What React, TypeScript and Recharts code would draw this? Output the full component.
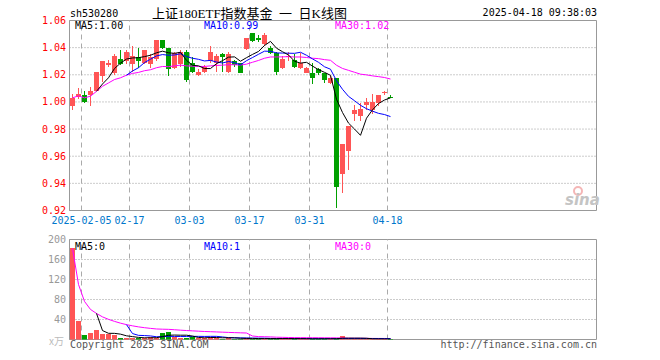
import { ComposedChart, Bar, Line, XAxis, YAxis, CartesianGrid, ReferenceLine, ReferenceArea } from 'recharts';

const MONO = "'DejaVu Sans Mono', monospace";
const RED = '#ff5555';
const GREEN = '#00a000';

// trading days shown (index 0 = 2025-01-24)
const dates = [
  '2025-01-24', '2025-01-27', '2025-02-05', '2025-02-06', '2025-02-07', '2025-02-10', '2025-02-11', '2025-02-12',
  '2025-02-13', '2025-02-14', '2025-02-17', '2025-02-18', '2025-02-19', '2025-02-20', '2025-02-21', '2025-02-24',
  '2025-02-25', '2025-02-26', '2025-02-27', '2025-02-28', '2025-03-03', '2025-03-04', '2025-03-05', '2025-03-06',
  '2025-03-07', '2025-03-10', '2025-03-11', '2025-03-12', '2025-03-13', '2025-03-14', '2025-03-17', '2025-03-18',
  '2025-03-19', '2025-03-20', '2025-03-21', '2025-03-24', '2025-03-25', '2025-03-26', '2025-03-27', '2025-03-28',
  '2025-03-31', '2025-04-01', '2025-04-02', '2025-04-03', '2025-04-07', '2025-04-08', '2025-04-09', '2025-04-10',
  '2025-04-11', '2025-04-14', '2025-04-15', '2025-04-16', '2025-04-17', '2025-04-18',
];

const opens = [
  0.997, 1.004, 1.005, 1.005, 1.008, 1.019, 1.027, 1.021, 1.032, 1.030, 1.028, 1.033, 1.029, 1.028, 1.032, 1.046,
  1.040, 1.025, 1.028, 1.037, 1.029, 1.020, 1.022, 1.030, 1.029, 1.035, 1.022, 1.030, 1.029, 1.039, 1.051, 1.047,
  1.043, 1.040, 1.036, 1.025, 1.033, 1.031, 1.025, 1.021, 1.021, 1.024, 1.021, 1.014, 1.018, 0.947, 0.964, 0.991,
  0.990, 0.998, 0.994, 0.999, 1.007, 1.004,
];
const closes = [
  1.003, 1.006, 1.000, 1.008, 1.022, 1.030, 1.029, 1.034, 1.028, 1.037, 1.034, 1.030, 1.038, 1.033, 1.046, 1.040,
  1.024, 1.036, 1.037, 1.016, 1.022, 1.022, 1.026, 1.037, 1.034, 1.033, 1.035, 1.027, 1.021, 1.047, 1.045, 1.046,
  1.049, 1.036, 1.022, 1.032, 1.034, 1.026, 1.029, 1.025, 1.018, 1.021, 1.016, 1.018, 0.937, 0.969, 0.982, 0.994,
  0.995, 1.000, 1.000, 1.005, 1.007, 1.003,
];
const highs = [
  1.006, 1.010, 1.008, 1.011, 1.022, 1.030, 1.031, 1.035, 1.038, 1.038, 1.041, 1.040, 1.038, 1.035, 1.046, 1.046,
  1.040, 1.037, 1.038, 1.038, 1.033, 1.024, 1.027, 1.041, 1.035, 1.036, 1.037, 1.031, 1.029, 1.047, 1.051, 1.049,
  1.051, 1.041, 1.037, 1.034, 1.037, 1.035, 1.036, 1.026, 1.029, 1.025, 1.021, 1.019, 1.018, 0.969, 0.982, 0.998,
  0.999, 1.003, 1.006, 1.005, 1.008, 1.005,
];
const lows = [
  0.994, 1.002, 0.999, 0.997, 1.008, 1.015, 1.026, 1.020, 1.027, 1.028, 1.022, 1.025, 1.028, 1.025, 1.030, 1.039,
  1.019, 1.024, 1.026, 1.015, 1.021, 1.019, 1.021, 1.029, 1.022, 1.022, 1.021, 1.026, 1.021, 1.038, 1.044, 1.044,
  1.041, 1.035, 1.020, 1.024, 1.030, 1.025, 1.024, 1.021, 1.013, 1.020, 1.014, 1.013, 0.922, 0.933, 0.950, 0.986,
  0.986, 0.994, 0.991, 0.997, 1.005, 1.003,
];
// volume in 万
const volumes = [
  182, 38, 8.5, 12, 20, 11, 10.5, 8, 4, 3.5, 3, 2.5, 4, 4.5, 4, 14, 16, 6, 3, 4, 5, 2.5, 2.5, 6, 4, 2, 3, 2, 1.5,
  2.5, 2, 1.5, 1.5, 2, 2, 2.5, 1.5, 1, 1.5, 1.5, 1.5, 1.5, 1.5, 1.5, 2, 6.5, 2, 1.5, 1.5, 1, 1, 1, 1, 1,
];

const priceTicks = [0.92, 0.94, 0.96, 0.98, 1.0, 1.02, 1.04, 1.06];
const volTicks = [0, 40, 80, 120, 160, 200];
const labelIdx = [2, 10, 20, 30, 40, 53];
const labelText = ['2025-02-05', '02-17', '03-03', '03-17', '03-31', '04-18'];

const X_MIN = -0.5;
const X_MAX = X_MIN + 527 / 6;

function movingAvg(src: number[], n: number, partial: boolean) {
  return src.map((_, i) => {
    if (i < n - 1 && !partial) return null;
    const win = src.slice(Math.max(0, i - n + 1), i + 1);
    return win.reduce((a, b) => a + b, 0) / win.length;
  });
}

const ma5 = movingAvg(closes, 5, false);
const ma10 = movingAvg(closes, 10, false);
const ma30 = movingAvg(closes, 30, true);
const vma5 = movingAvg(volumes, 5, false);
const vma10 = movingAvg(volumes, 10, false);
const vma30 = movingAvg(volumes, 30, true);

const rows = dates.map((d, i) => ({
  i,
  date: d,
  o: opens[i],
  c: closes[i],
  h: highs[i],
  l: lows[i],
  v: volumes[i],
  up: closes[i] >= opens[i],
  ma5: ma5[i],
  ma10: ma10[i],
  ma30: ma30[i],
  vma5: vma5[i],
  vma10: vma10[i],
  vma30: vma30[i],
}));

function Candle(props: any) {
  const { x, y, width, height, payload } = props;
  if (x == null || !payload) return null;
  const top = Math.min(y, y + height);
  const bot = Math.max(y, y + height);
  const span = payload.h - payload.l;
  const toPx = (v: number) => (span > 0 ? top + ((payload.h - v) / span) * (bot - top) : top);
  const left = Math.round(x + width / 2 - 2.5);
  const color = payload.up ? RED : GREEN;
  const bTop = Math.round(toPx(Math.max(payload.o, payload.c)));
  let bBot = Math.round(toPx(Math.min(payload.o, payload.c)));
  if (bBot - bTop < 1) bBot = bTop + 1;
  return (
    <g>
      <line x1={left + 2.5} x2={left + 2.5} y1={Math.round(top)} y2={Math.round(bot)} stroke={color} strokeWidth={1} />
      <rect x={left} y={bTop} width={5} height={bBot - bTop} fill={color} />
    </g>
  );
}

function VolBar(props: any) {
  const { x, y, width, height, payload } = props;
  if (x == null || !payload) return null;
  const left = Math.round(x + width / 2 - 2.5);
  const bottom = Math.round(y + height);
  let top = Math.round(y);
  if (bottom - top < 1) top = bottom - 1;
  return <rect x={left} y={top} width={5} height={bottom - top} fill={payload.up ? RED : GREEN} />;
}

const dateLabel = (v: number) => {
  const k = labelIdx.indexOf(Math.round(v + 0.5));
  return k >= 0 ? labelText[k] : '';
};

export default function App() {
  return (
    <div style={{ position: 'absolute', left: 0, top: 0, width: 660, height: 360, background: '#fff' }}>
      <div style={{ position: 'absolute', left: 0, top: 0 }}>
        <ComposedChart width={660} height={232} data={rows} margin={{ top: 20.5, right: 63.5, bottom: 0, left: 0 }}>
          <CartesianGrid vertical={false} stroke="#999" strokeDasharray="1 2" />
          <XAxis
            dataKey="i"
            type="number"
            domain={[X_MIN, X_MAX]}
            allowDataOverflow
            ticks={labelIdx.map((i) => i - 0.5)}
            interval={0}
            tickFormatter={dateLabel}
            height={21.5}
            axisLine={false}
            tickLine={false}
            tickSize={0}
            tickMargin={6.5}
            tick={{ fill: '#0077cc', fontSize: 10, fontFamily: MONO }}
          />
          <YAxis
            type="number"
            domain={[0.92, 1.06]}
            ticks={priceTicks}
            interval={0}
            allowDataOverflow
            width={69.5}
            axisLine={false}
            tickLine={false}
            tickSize={0}
            tickMargin={3.5}
            tickFormatter={(v: number) => v.toFixed(2)}
            tick={{ fill: '#ff0000', fontSize: 10, fontFamily: MONO }}
          />
          {labelIdx.map((i) => (
            <ReferenceLine key={i} x={i - 0.5} stroke="#aaa" strokeDasharray="5 4" />
          ))}
          <ReferenceArea x1={X_MIN} x2={X_MAX} y1={0.92} y2={1.06} fill="none" stroke="#999" />
          <Bar dataKey={(d: any) => [d.l, d.h]} barSize={5} shape={<Candle />} isAnimationActive={false} />
          <Line dataKey="ma30" stroke="#ff00ff" strokeWidth={1} dot={false} isAnimationActive={false} />
          <Line dataKey="ma10" stroke="#0000ff" strokeWidth={1} dot={false} isAnimationActive={false} />
          <Line dataKey="ma5" stroke="#000" strokeWidth={1} dot={false} isAnimationActive={false} />
        </ComposedChart>
      </div>
      <div style={{ position: 'absolute', left: 0, top: 230 }}>
        <ComposedChart width={660} height={130} data={rows} margin={{ top: 9.5, right: 63.5, bottom: 20.5, left: 0 }}>
          <CartesianGrid vertical={false} stroke="#999" strokeDasharray="1 2" />
          <XAxis dataKey="i" type="number" domain={[X_MIN, X_MAX]} allowDataOverflow hide />
          <YAxis
            type="number"
            domain={[0, 200]}
            ticks={volTicks}
            interval={0}
            allowDataOverflow
            width={69.5}
            axisLine={false}
            tickLine={false}
            tickSize={0}
            tickMargin={3.5}
            tickFormatter={(v: number) => (v === 0 ? '' : String(v))}
            tick={{ fill: '#999', fontSize: 10, fontFamily: MONO }}
          />
          {labelIdx.map((i) => (
            <ReferenceLine key={i} x={i - 0.5} stroke="#aaa" strokeDasharray="5 4" />
          ))}
          <ReferenceArea x1={X_MIN} x2={X_MAX} y1={0} y2={200} fill="none" stroke="#999" />
          <Bar dataKey="v" barSize={5} shape={<VolBar />} isAnimationActive={false} />
          <Line dataKey="vma30" stroke="#ff00ff" strokeWidth={1} dot={false} isAnimationActive={false} />
          <Line dataKey="vma10" stroke="#0000ff" strokeWidth={1} dot={false} isAnimationActive={false} />
          <Line dataKey="vma5" stroke="#000" strokeWidth={1} dot={false} isAnimationActive={false} />
        </ComposedChart>
      </div>
      <svg width={660} height={360} style={{ position: 'absolute', left: 0, top: 0, pointerEvents: 'none' }}>
        <g fontFamily={MONO} fontSize={10}>
          <text x={70} y={17} fill="#000">sh530280</text>
          <text x={597} y={16} fill="#000" textAnchor="end">2025-04-18 09:38:03</text>
          <text x={75} y={29} fill="#000">MA5:1.00</text>
          <text x={204} y={29} fill="#0000ff">MA10:0.99</text>
          <text x={335} y={29} fill="#ff00ff">MA30:1.02</text>
          <text x={75} y={250} fill="#000">MA5:0</text>
          <text x={204} y={250} fill="#0000ff">MA10:1</text>
          <text x={335} y={250} fill="#ff00ff">MA30:0</text>
          <text x={70} y={348} fill="#555">Copyright 2025 SINA.COM</text>
          <text x={597} y={348} fill="#555" textAnchor="end">http://finance.sina.com.cn</text>
        </g>
        <text x={152} y={18} fontFamily="'Liberation Serif', 'Noto Sans CJK SC', serif" fontSize={13} fill="#000" style={{ whiteSpace: 'pre' }}>
          {'上证180ETF指数基金  一  日K线图'}
        </text>
        <text x={49} y={345} fontFamily="'Noto Sans CJK SC', sans-serif" fontSize={10} fill="#bbb">x万</text>
        <circle cx={578} cy={191} r={4} fill="none" stroke="#f4b6b6" strokeWidth={2} />
        <text x={565} y={205} fontFamily="'DejaVu Sans', sans-serif" fontSize={15} fontWeight="bold" fontStyle="italic" fill="#c4c4c4">sina</text>
      </svg>
    </div>
  );
}
